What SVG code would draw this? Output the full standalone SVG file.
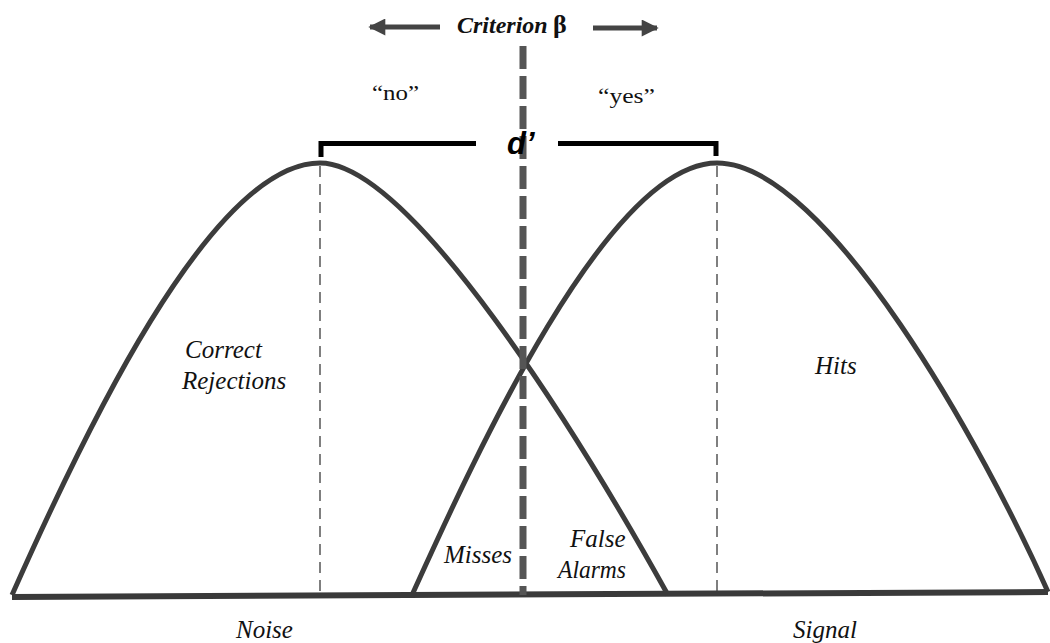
<svg xmlns="http://www.w3.org/2000/svg" width="1050" height="643" viewBox="0 0 1050 643">
<style>
.curve{fill:none;stroke:#3c3c3c;stroke-width:5;stroke-linejoin:round}
.thin{stroke:#555;stroke-width:1.5;stroke-dasharray:11 7;fill:none}
.lbl{font-family:"Liberation Serif",serif;font-style:italic;font-size:25px;fill:#111}
.q{font-family:"Liberation Serif",serif;font-size:21px;fill:#111}
.brk{fill:none;stroke:#000;stroke-width:5}
</style>
<defs>
<marker id="ah" viewBox="0 0 10 10" refX="9" refY="5" markerWidth="4.2" markerHeight="3.4" markerUnits="strokeWidth" orient="auto">
<path d="M0,0 L10,5 L0,10 Z" fill="#444"/>
</marker>
</defs>
<rect width="1050" height="643" fill="#fff"/>
<g id="connectors">
<line x1="440" y1="27" x2="370" y2="27" stroke="#444" stroke-width="5" marker-end="url(#ah)"/>
<line x1="593" y1="28" x2="657" y2="28" stroke="#444" stroke-width="5" marker-end="url(#ah)"/>
<line class="thin" x1="320" y1="166" x2="320" y2="594"/>
<line class="thin" x1="717" y1="166" x2="717" y2="592"/>
<polyline class="brk" points="321,157 321,143.5 476,143.5"/>
<polyline class="brk" points="558,143.5 716,143.5 716,156"/>
</g>
<g id="noise-curve">
<path class="curve" d="M12,595 C80,442 210,163 320,163 C410,163 578,433 668,595"/>
</g>
<g id="signal-curve">
<path class="curve" d="M412,595 C472,463 607,163 717,163 C827,163 985,450 1048,592"/>
</g>
<g id="baseline">
<line x1="12" y1="597" x2="1048" y2="592" stroke="#3a3a3a" stroke-width="6"/>
</g>
<g id="criterion">
<line x1="523" y1="46" x2="523" y2="595" stroke="#555" stroke-width="7" stroke-dasharray="23 7"/>
<text x="457" y="33" font-family="Liberation Serif,serif" font-style="italic" font-weight="bold" font-size="24" fill="#111">Criterion</text>
<text x="553" y="33" font-family="Liberation Serif,serif" font-weight="bold" font-size="26" fill="#111">β</text>
</g>
<g id="no"><text class="q" x="372" y="100" textLength="47" lengthAdjust="spacingAndGlyphs">“no”</text></g>
<g id="yes"><text class="q" x="598" y="103" textLength="57" lengthAdjust="spacingAndGlyphs">“yes”</text></g>
<g id="dprime"><text x="507" y="154" font-family="Liberation Sans,sans-serif" font-style="italic" font-weight="bold" font-size="31" fill="#000">d’</text></g>
<g id="correct-rejections">
<text class="lbl" x="185" y="358">Correct</text>
<text class="lbl" x="182" y="389">Rejections</text>
</g>
<g id="hits"><text class="lbl" x="815" y="374">Hits</text></g>
<g id="misses"><text class="lbl" x="444" y="563">Misses</text></g>
<g id="false-alarms">
<text class="lbl" x="570" y="547">False</text>
<text class="lbl" x="558" y="578" textLength="68" lengthAdjust="spacingAndGlyphs">Alarms</text>
</g>
<g id="noise"><text class="lbl" x="236" y="638">Noise</text></g>
<g id="signal"><text class="lbl" x="793" y="638">Signal</text></g>
</svg>
